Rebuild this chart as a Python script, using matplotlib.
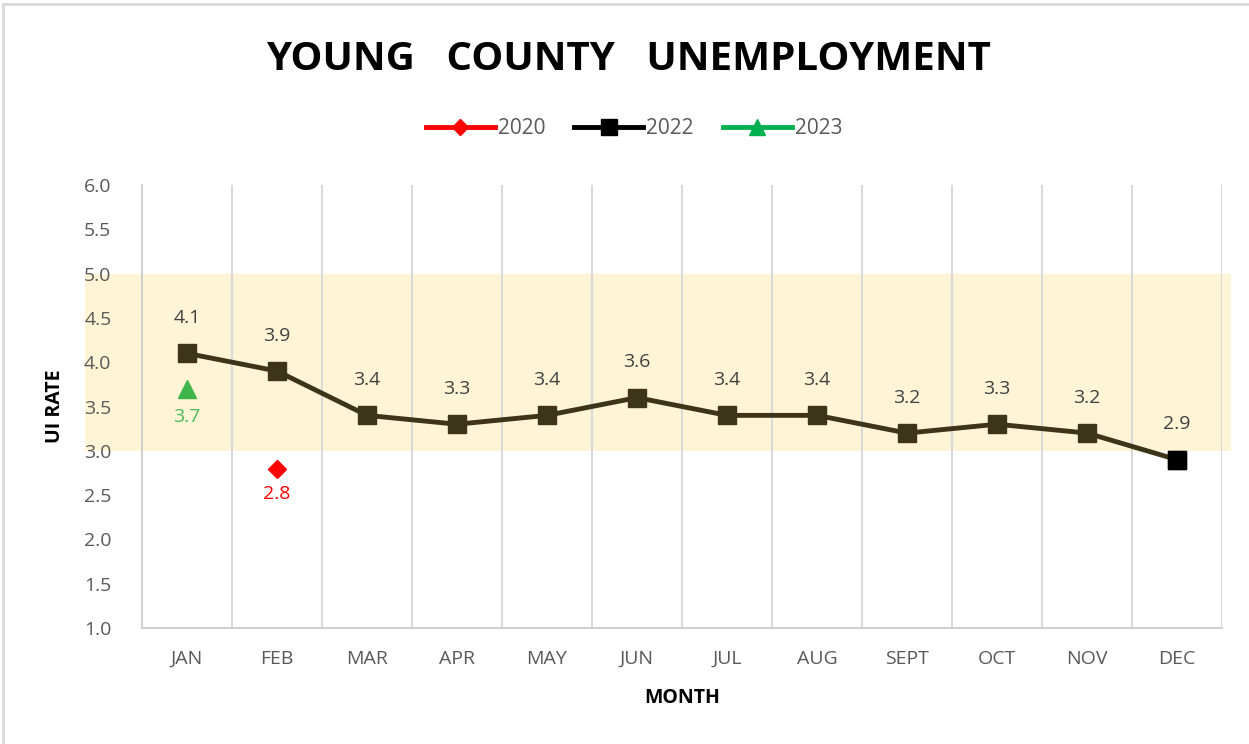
import matplotlib.pyplot as plt
from matplotlib.lines import Line2D

# data
months = ['JAN', 'FEB', 'MAR', 'APR', 'MAY', 'JUN', 'JUL', 'AUG', 'SEPT', 'OCT', 'NOV', 'DEC']
rate_2022 = [4.1, 3.9, 3.4, 3.3, 3.4, 3.6, 3.4, 3.4, 3.2, 3.3, 3.2, 2.9]
rate_2020_month = ['FEB']
rate_2020 = [2.8]
rate_2023_month = ['JAN']
rate_2023 = [3.7]
band_low, band_high = 3.0, 5.0
yticks = [1.0, 1.5, 2.0, 2.5, 3.0, 3.5, 4.0, 4.5, 5.0, 5.5, 6.0]

plt.rcParams['font.family'] = ['Open Sans', 'DejaVu Sans']

fig = plt.figure(figsize=(12.49, 7.44), dpi=100)
ax = fig.add_axes([142/1249, 1-628/744, 1080/1249, 443/744])

x = list(range(len(months)))
olive = '#3d3519'
ax.plot(x, rate_2022, color=olive, lw=3.5, marker='s', ms=13, zorder=3)
ax.plot(x[-1], rate_2022[-1], marker='s', ms=13, color='black', lw=0, zorder=4)
x20 = [months.index(m) for m in rate_2020_month]
x23 = [months.index(m) for m in rate_2023_month]
ax.plot(x20, rate_2020, lw=0, marker='D', ms=9, color='#ff0000', zorder=3)
ax.plot(x23, rate_2023, lw=0, marker='^', ms=13, color='#3cb54a', zorder=3)

for xi, v in zip(x, rate_2022):
    ax.annotate(f'{v:.1f}', (xi, v), xytext=(0, 19), textcoords='offset points',
                ha='center', va='bottom', fontsize=14, color='#404040')
for xi, v in zip(x20, rate_2020):
    ax.annotate(f'{v:.1f}', (xi, v), xytext=(0, -12), textcoords='offset points',
                ha='center', va='top', fontsize=14, color='#ff0000')
for xi, v in zip(x23, rate_2023):
    ax.annotate(f'{v:.1f}', (xi, v), xytext=(0, -14), textcoords='offset points',
                ha='center', va='top', fontsize=14, color='#4cbb5b')

# shaded band, runs under the tick labels
ax.axhspan(band_low, band_high, xmin=-0.053, xmax=1.008, color='#fff4d6',
           clip_on=False, zorder=0, lw=0)

ax.set_xlim(-0.5, len(months) - 0.5)
ax.set_ylim(1.0, 6.0)
ax.set_yticks(yticks)
ax.set_yticklabels([f'{t:.1f}' for t in yticks])
ax.set_xticks(x)
ax.set_xticklabels(months)
for b in [i + 0.5 for i in x]:
    ax.axvline(b, color='#d9d9d9', lw=1.5, zorder=1)
ax.tick_params(length=0, labelsize=14, colors='#595959')
ax.tick_params(axis='x', pad=16)
ax.tick_params(axis='y', pad=22)
for s in ['top', 'right']:
    ax.spines[s].set_visible(False)
for s in ['left', 'bottom']:
    ax.spines[s].set_color('#d0d0d0')
    ax.spines[s].set_linewidth(1.5)
ax.set_facecolor('none')

ax.set_ylabel('UI RATE', fontsize=14, fontweight='bold', color='black', labelpad=14)
ax.set_xlabel('MONTH', fontsize=14, fontweight='bold', color='black', labelpad=14)

fig.text(628/1249, 1-59/744, 'YOUNG   COUNTY   UNEMPLOYMENT', ha='center', va='center',
         fontsize=29, fontweight='bold', color='black')

handles = [
    Line2D([], [], color='#ff0000', lw=3.5, marker='D', ms=8),
    Line2D([], [], color='black', lw=3.5, marker='s', ms=11),
    Line2D([], [], color='#00b050', lw=3.5, marker='^', ms=11),
]
leg = fig.legend(handles, ['2020', '2022', '2023'], loc='center', ncol=3,
                 bbox_to_anchor=(634/1249, 1-129/744), frameon=False, fontsize=15,
                 handlelength=3.3, handletextpad=0.15, columnspacing=1.4)
for t in leg.get_texts():
    t.set_color('#595959')

# chart frame edges
fig.add_artist(Line2D([3/1249, 1], [1-4/744, 1-4/744], color='#d9d9d9', lw=2))
fig.add_artist(Line2D([3/1249, 3/1249], [0, 1-4/744], color='#d9d9d9', lw=2))

fig.savefig('out.png', dpi=100)
